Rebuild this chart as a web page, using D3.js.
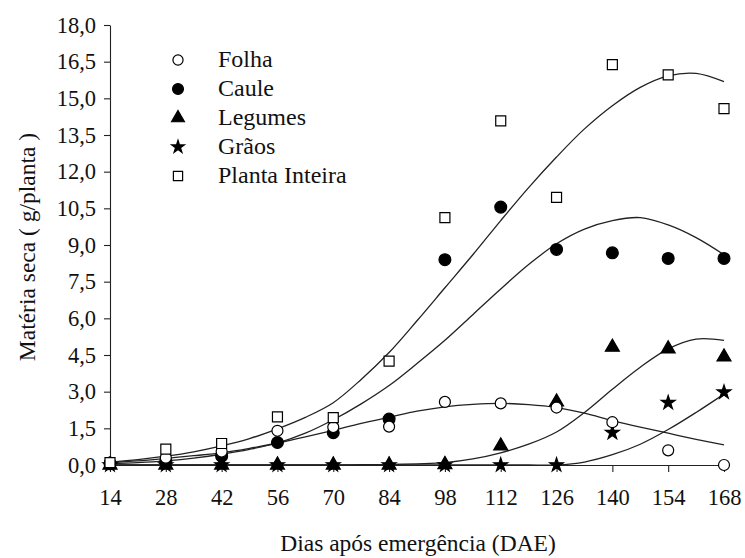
<!DOCTYPE html>
<html>
<head>
<meta charset="utf-8">
<script src="https://cdn.jsdelivr.net/npm/d3@7"></script>
<style>
  html, body { margin: 0; padding: 0; background: #fff; }
  svg { display: block; }
</style>
</head>
<body>
<svg id="chart" width="745" height="558"></svg>
<script>
// ---- Data ----
const days = [14, 28, 42, 56, 70, 84, 98, 112, 126, 140, 154, 168];
const folha   = [0.10, 0.30, 0.55, 1.40, 1.55, 1.57, 2.58, 2.52, 2.35, 1.75, 0.60, 0.00];
const caule   = [0.05, 0.15, 0.36, 0.92, 1.32, 1.88, 8.40, 10.55, 8.82, 8.68, 8.45, 8.45];
const legumes = [0.00, 0.00, 0.00, 0.00, 0.00, 0.00, 0.02, 0.78, 2.58, 4.82, 4.75, 4.42];
const graos   = [0.00, 0.00, 0.00, 0.00, 0.00, 0.00, 0.00, 0.00, 0.00, 1.32, 2.55, 2.98];
const planta  = [0.10, 0.65, 0.88, 1.97, 1.94, 4.25, 10.12, 14.08, 10.95, 16.38, 15.96, 14.58];

// fitted curves, read every 7 days
const curveDays = [14, 21, 28, 35, 42, 49, 56, 63, 70, 77, 84, 91, 98, 105, 112, 119, 126, 133, 140, 147, 154, 161, 168];
const folhaFit   = [0.10, 0.17, 0.27, 0.38, 0.50, 0.68, 0.90, 1.15, 1.42, 1.70, 1.95, 2.20, 2.38, 2.48, 2.52, 2.47, 2.35, 2.12, 1.82, 1.55, 1.30, 1.05, 0.82];
const cauleFit   = [0.06, 0.10, 0.17, 0.28, 0.44, 0.64, 0.90, 1.30, 1.85, 2.50, 3.25, 4.15, 5.10, 6.15, 7.20, 8.20, 9.05, 9.65, 10.00, 10.12, 9.82, 9.30, 8.60];
const legumesFit = [0.00, 0.00, 0.00, 0.00, 0.00, 0.00, 0.00, 0.00, 0.00, 0.01, 0.02, 0.05, 0.10, 0.25, 0.50, 0.85, 1.35, 2.15, 3.10, 4.00, 4.75, 5.15, 5.10];
const graosFit   = [0.00, 0.00, 0.00, 0.00, 0.00, 0.00, 0.00, 0.00, 0.00, 0.00, 0.00, 0.00, 0.00, 0.00, 0.00, 0.00, 0.00, 0.12, 0.42, 0.85, 1.45, 2.15, 2.90];
const plantaFit  = [0.12, 0.22, 0.36, 0.54, 0.78, 1.08, 1.48, 1.95, 2.55, 3.50, 4.60, 5.90, 7.25, 8.60, 10.00, 11.35, 12.60, 13.75, 14.70, 15.45, 15.92, 16.02, 15.68];

const seriesNames = ["Folha", "Caule", "Legumes", "Grãos", "Planta Inteira"];
const yTicks = [0, 1.5, 3, 4.5, 6, 7.5, 9, 10.5, 12, 13.5, 15, 16.5, 18];
const yTickLabels = ["0,0", "1,5", "3,0", "4,5", "6,0", "7,5", "9,0", "10,5", "12,0", "13,5", "15,0", "16,5", "18,0"];
const xTicks = days;
const xTitle = "Dias após emergência (DAE)";
const yTitle = "Matéria seca ( g/planta )";

// ---- Chart ----
const FONT = "'Liberation Serif', 'Times New Roman', serif";
const svg = d3.select("#chart");
const x = d3.scaleLinear().domain([14, 168]).range([110, 724]);
const y = d3.scaleLinear().domain([0, 18]).range([465, 25]);

function styleText(sel, fs) {
  sel.attr("font-family", null).style("font-family", FONT).style("font-size", fs + "px").attr("fill", "#111");
}

// axes
const yAxis = d3.axisLeft(y).tickValues(yTicks)
  .tickFormat((d, i) => yTickLabels[i]).tickSize(6).tickSizeOuter(0).tickPadding(8);
const gy = svg.append("g").attr("transform", `translate(${x(14)},0)`).call(yAxis);
gy.attr("font-family", null);
styleText(gy.selectAll("text"), 22.5);

const xAxis = d3.axisBottom(x).tickValues(xTicks).tickSize(7).tickSizeOuter(0).tickPadding(17);
const gx = svg.append("g").attr("transform", `translate(0,${y(0)})`).call(xAxis);
gx.attr("font-family", null);
styleText(gx.selectAll("text"), 22.5);
svg.selectAll(".domain, .tick line").attr("stroke", "#222").attr("stroke-width", 1.1);

// titles
styleText(svg.append("text").attr("x", 418).attr("y", 551).attr("text-anchor", "middle").text(xTitle), 23.5);
styleText(svg.append("text").attr("transform", `translate(35,247) rotate(-90)`).attr("text-anchor", "middle").text(yTitle), 23.5);

// curves
const line = d3.line().x((d, i) => x(curveDays[i])).y(d => y(d)).curve(d3.curveCatmullRom.alpha(0.5));
[folhaFit, cauleFit, legumesFit, graosFit, plantaFit].forEach(arr => {
  svg.append("path").datum(arr).attr("d", line)
    .attr("fill", "none").attr("stroke", "#222").attr("stroke-width", 1.3);
});

// markers
const sym = {
  "Folha":          { type: d3.symbolCircle,   size: 95,  fill: "#fff" },
  "Caule":          { type: d3.symbolCircle,   size: 110, fill: "#000" },
  "Legumes":        { type: d3.symbolTriangle, size: 85,  fill: "#000" },
  "Grãos":          { type: d3.symbolStar,     size: 60,  fill: "#000" },
  "Planta Inteira": { type: d3.symbolSquare,   size: 100, fill: "#fff" }
};
const seriesData = [folha, caule, legumes, graos, planta];
const drawOrder = [2, 3, 1, 0, 4];
drawOrder.forEach(si => {
  const s = sym[seriesNames[si]];
  svg.append("g").selectAll("path").data(seriesData[si]).join("path")
    .attr("transform", (d, i) => `translate(${x(days[i])},${y(d)})`)
    .attr("d", d3.symbol().type(s.type).size(s.size))
    .attr("fill", s.fill).attr("stroke", "#000").attr("stroke-width", 1.2);
});

// legend
const lg = svg.append("g");
seriesNames.forEach((name, i) => {
  const s = sym[name];
  const cy = 60 + i * 29;
  lg.append("path").attr("transform", `translate(178,${cy})`)
    .attr("d", d3.symbol().type(s.type).size(s.size * 0.85))
    .attr("fill", s.fill).attr("stroke", "#000").attr("stroke-width", 1.2);
  styleText(lg.append("text").attr("x", 218).attr("y", cy + 7).text(name), 24);
});
</script>
</body>
</html>
